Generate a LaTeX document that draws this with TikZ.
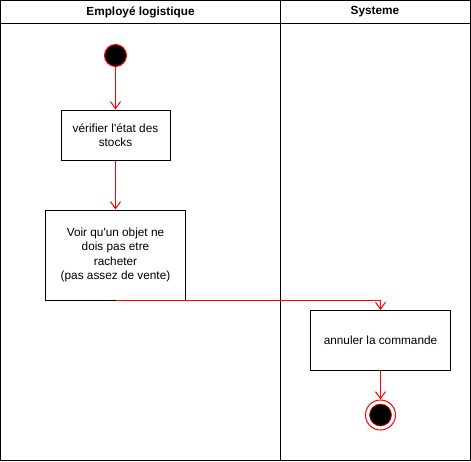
\documentclass[tikz,border=0pt]{standalone}
\usepackage{fontspec}
\setmainfont{Liberation Sans}
\usetikzlibrary{positioning,arrows.meta}

\begin{document}
\begin{tikzpicture}[x=1pt,y=-1pt,
    action/.style={draw,line width=1pt,align=center,inner sep=0pt,
      font=\fontsize{11.8}{14.4}\selectfont},
    lanehead/.style={font=\bfseries\fontsize{11.8}{13}\selectfont},
    startdot/.style={circle,draw=red,fill=black,line width=1pt,minimum size=22pt,inner sep=0pt},
    enddot/.style={circle,draw=red,line width=1pt,minimum size=30pt,inner sep=0pt},
    enddotin/.style={circle,draw=red,fill=black,line width=0.6pt,minimum size=22pt,inner sep=0pt},
    flow/.style={draw=red,line width=1pt,-{Straight Barb[length=7pt,width=10pt]}}
  ]
  \useasboundingbox (0,0) rectangle (471,461);
  % swimlanes
  \draw[line width=1pt] (0.5,0.5) rectangle (470,460);
  \draw[line width=1pt] (0.5,23.5) -- (470,23.5);
  \draw[line width=1pt] (280.5,0.5) -- (280.5,460);
  \node[lanehead] (empl) at (140.5,12) {Employé logistique};
  \node[lanehead] (sys) at (375,12) {Systeme};
  % activities
  \node[startdot] (debut) at (115.5,55.5) {};
  \node[action,minimum width=109pt,minimum height=50pt] (verif) at (115.5,135)
    {vérifier l\textquotesingle état des\\stocks};
  \node[action,minimum width=140pt,minimum height=90pt] (voir) at (115.5,255)
    {Voir qu\textquotesingle un objet ne\\dois pas etre\\racheter\\(pas assez de vente)};
  \node[action,minimum width=140pt,minimum height=60pt] (annul) at (380.5,340.5)
    {annuler la commande};
  \node[enddot] (fin) at (380.5,415) {};
  \node[enddotin] (finin) at (fin) {};
  % transitions
  \draw[flow] (debut) -- (verif);
  \draw[flow] (verif) -- (voir);
  \draw[flow] (voir.south) -| (annul.north);
  \draw[flow] (annul) -- (fin);
\end{tikzpicture}
\end{document}
